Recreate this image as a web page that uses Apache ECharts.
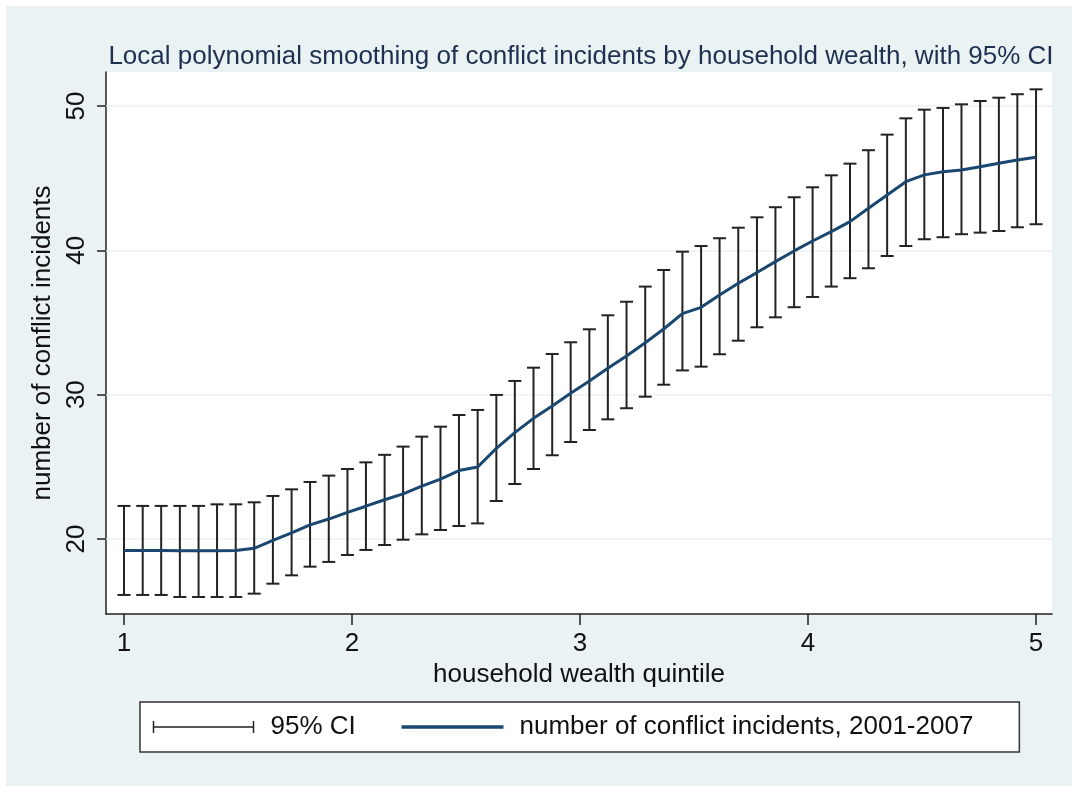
<!DOCTYPE html>
<html>
<head>
<meta charset="utf-8">
<script src="https://cdn.jsdelivr.net/npm/echarts@6/dist/echarts.min.js"></script>
<style>
    html, body { margin: 0; padding: 0; background: #fff; }
    .bg { position: absolute; left: 6px; top: 6px; width: 1066px; height: 780px; background: #eaf2f3; }
    #chart { position: absolute; left: 0; top: 0; width: 1072px; height: 786px; }
</style>
</head>
<body>
<div class="bg"></div>
<div id="chart"></div>
<script>
// lpoly grid points (household wealth quintile)
var quintile = [1.000, 1.082, 1.163, 1.245, 1.327, 1.408, 1.490, 1.571, 1.653, 1.735,
    1.816, 1.898, 1.980, 2.061, 2.143, 2.224, 2.306, 2.388, 2.469, 2.551,
    2.633, 2.714, 2.796, 2.878, 2.959, 3.041, 3.122, 3.204, 3.286, 3.367,
    3.449, 3.531, 3.612, 3.694, 3.776, 3.857, 3.939, 4.020, 4.102, 4.184,
    4.265, 4.347, 4.429, 4.510, 4.592, 4.673, 4.755, 4.837, 4.918, 5.000];
// smoothed number of conflict incidents
var smooth = [19.2, 19.2, 19.2, 19.18, 19.18, 19.18, 19.2, 19.35, 19.9, 20.42,
    20.98, 21.38, 21.84, 22.27, 22.72, 23.12, 23.66, 24.15, 24.74, 24.99,
    26.28, 27.37, 28.36, 29.22, 30.1, 30.95, 31.83, 32.68, 33.6, 34.55,
    35.62, 36.05, 36.91, 37.72, 38.46, 39.22, 39.96, 40.65, 41.3, 41.99,
    42.92, 43.84, 44.76, 45.23, 45.45, 45.57, 45.8, 46.04, 46.26, 46.45];
var ciUpper = [22.29, 22.29, 22.29, 22.29, 22.29, 22.40, 22.40, 22.54, 22.98, 23.44,
    23.95, 24.39, 24.85, 25.31, 25.83, 26.40, 27.09, 27.78, 28.59, 28.94,
    29.98, 30.95, 31.87, 32.82, 33.63, 34.53, 35.50, 36.44, 37.49, 38.64,
    39.91, 40.30, 40.84, 41.57, 42.29, 42.99, 43.68, 44.37, 45.20, 46.01,
    46.94, 48.02, 49.15, 49.75, 49.87, 50.12, 50.35, 50.58, 50.82, 51.16];
var ciLower = [16.12, 16.12, 16.12, 15.98, 15.98, 15.98, 15.98, 16.21, 16.90, 17.48,
    18.08, 18.41, 18.89, 19.24, 19.58, 19.95, 20.32, 20.62, 20.90, 21.08,
    22.63, 23.81, 24.85, 25.80, 26.72, 27.55, 28.29, 29.06, 29.86, 30.69,
    31.68, 31.94, 32.80, 33.74, 34.67, 35.36, 36.06, 36.77, 37.49, 38.07,
    38.76, 39.61, 40.30, 40.77, 40.91, 41.12, 41.23, 41.34, 41.60, 41.81];
var xTicks = [1, 2, 3, 4, 5];
var yTicks = [20, 30, 40, 50];

var font = "'Liberation Sans', Arial, sans-serif";
var navy = "#1a476f";

var lineData = quintile.map(function (x, i) { return [x, smooth[i]]; });
var ciData = quintile.map(function (x, i) { return [x, ciLower[i], ciUpper[i]]; });

var myChart = echarts.init(document.getElementById("chart"));
var option = {
    backgroundColor: "transparent",
    animation: false,
    textStyle: { fontFamily: font },
    title: {
        text: "Local polynomial smoothing of conflict incidents by household wealth, with 95% CI",
        left: 576,
        top: 39,
        textAlign: "center",
        textStyle: { fontFamily: font, fontSize: 26, fontWeight: "normal", color: "#1e2f50" },
    },
    grid: {
        left: 106,
        right: 20,
        top: 72,
        bottom: 172,
        show: true,
        backgroundColor: "#fff",
        borderWidth: 0,
    },
    legend: {
        left: 140,
        top: 702,
        orient: "horizontal",
        padding: [12, 46, 12, 11],
        itemGap: 44,
        itemWidth: 102,
        itemHeight: 12,
        borderColor: "#333",
        borderWidth: 1.5,
        backgroundColor: "#fff",
        borderRadius: 0,
        textStyle: { fontFamily: font, fontSize: 26, color: "#111", padding: [0, 0, 0, 11] },
        data: [
            {
                name: "95% CI",
                icon: "path://M0,0L0,12M0,6L100,6M100,0L100,12",
                itemStyle: { color: "none", borderColor: "#222", borderWidth: 1.5 },
            },
            {
                name: "number of conflict incidents, 2001-2007",
                itemStyle: { opacity: 0 },
                lineStyle: { color: navy, width: 3.5 },
            },
        ],
    },
    xAxis: {
        type: "value",
        min: 0.921,
        max: 5.07,
        name: "household wealth quintile",
        nameLocation: "middle",
        nameGap: 45,
        nameTextStyle: { fontFamily: font, fontSize: 26, color: "#111" },
        axisLine: { show: true, lineStyle: { color: "#222", width: 1.5 } },
        axisTick: { show: true, length: 11, customValues: xTicks, lineStyle: { color: "#222", width: 1.5 } },
        axisLabel: { customValues: xTicks, margin: 17, fontFamily: font, fontSize: 26, color: "#111" },
        splitLine: { show: false },
    },
    yAxis: {
        type: "value",
        min: 14.8,
        max: 52.36,
        name: "number of conflict incidents",
        nameLocation: "middle",
        nameRotate: 90,
        nameGap: 33,
        nameTextStyle: { fontFamily: font, fontSize: 26, color: "#111" },
        axisLine: { show: true, lineStyle: { color: "#222", width: 1.5 } },
        axisTick: { show: true, length: 9, customValues: yTicks, lineStyle: { color: "#222", width: 1.5 } },
        axisLabel: { customValues: yTicks, rotate: 90, margin: 16, fontFamily: font, fontSize: 26, color: "#111" },
        splitLine: { show: false },
    },
    series: [
        {
            type: "custom",
            name: "95% CI",
            data: ciData,
            z: 3,
            renderItem: function (params, api) {
                var lo = api.coord([api.value(0), api.value(1)]);
                var hi = api.coord([api.value(0), api.value(2)]);
                var w = 6.5;
                var st = { stroke: "#222", lineWidth: 2 };
                return {
                    type: "group",
                    children: [
                        { type: "line", shape: { x1: lo[0], y1: lo[1], x2: hi[0], y2: hi[1] }, style: st },
                        { type: "line", shape: { x1: lo[0] - w, y1: lo[1], x2: lo[0] + w, y2: lo[1] }, style: st },
                        { type: "line", shape: { x1: hi[0] - w, y1: hi[1], x2: hi[0] + w, y2: hi[1] }, style: st },
                    ],
                };
            },
        },
        {
            type: "line",
            name: "number of conflict incidents, 2001-2007",
            data: lineData,
            symbol: "none",
            z: 4,
            itemStyle: { color: navy },
            lineStyle: { color: navy, width: 3 },
            markLine: {
                silent: true,
                symbol: "none",
                z: 1,
                label: { show: false },
                lineStyle: { color: "#eaf2f3", width: 1.5, type: "solid" },
                data: yTicks.map(function (v) { return { yAxis: v }; }),
            },
        },
    ],
};
myChart.setOption(option);
</script>
</body>
</html>
